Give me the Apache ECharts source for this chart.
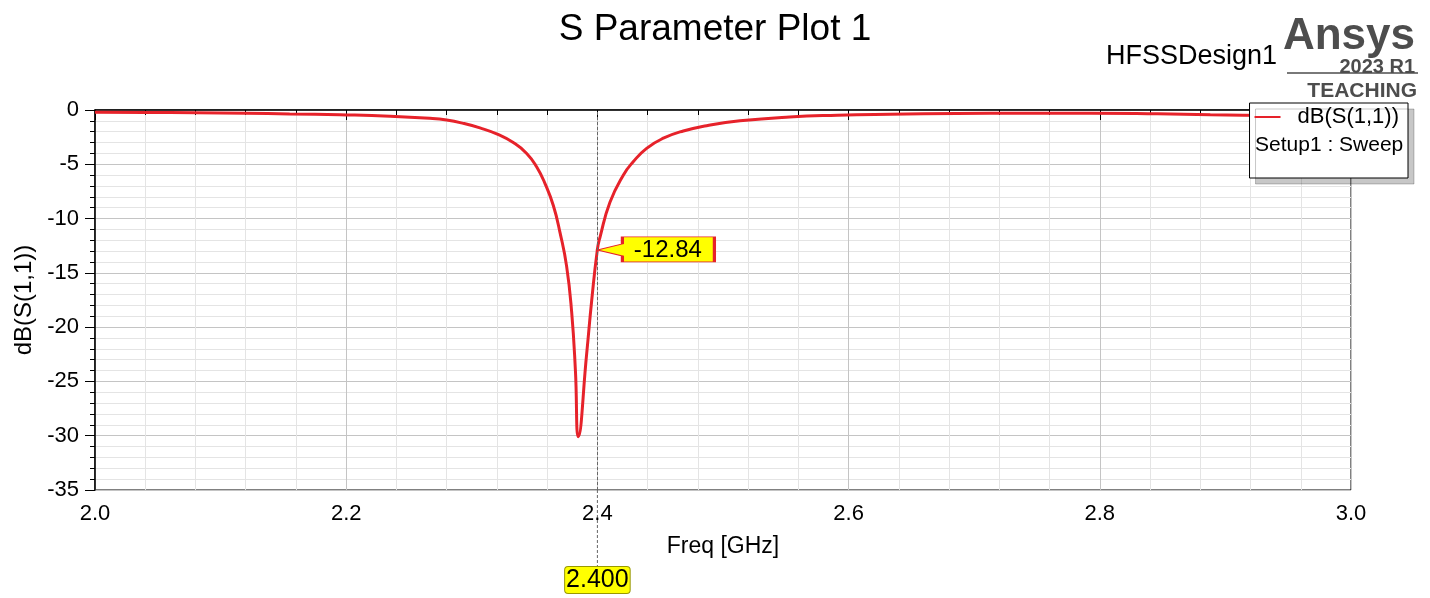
<!DOCTYPE html>
<html>
<head>
<meta charset="utf-8">
<script src="https://cdn.jsdelivr.net/npm/echarts@6/dist/echarts.min.js"></script>
<style>
html,body{margin:0;padding:0;background:#fff;}
#main{width:1430px;height:598px;}
</style>
</head>
<body>
<div id="main"></div>
<script>
// 频率 (GHz)
var freqs = [2.00, 2.04, 2.08, 2.12, 2.155, 2.195, 2.235, 2.2667, 2.280, 2.2932, 2.3065, 2.3198, 2.333, 2.3437,
	2.3517, 2.3583, 2.3649, 2.3702, 2.3755, 2.3795, 2.3825, 2.3848, 2.3915, 2.3955, 2.400, 2.4021, 2.410,
	2.4206, 2.4285, 2.4392, 2.4525, 2.4684, 2.487, 2.5135, 2.553, 2.591, 2.633, 2.686, 2.739, 2.792,
	2.846, 2.888, 2.94, 3.00];
// dB(S(1,1))
var s11 = [-0.20, -0.22, -0.25, -0.30, -0.36, -0.44, -0.57, -0.77, -0.93, -1.23, -1.65, -2.2, -3.0, -4.0,
	-5.25, -6.78, -8.8, -11.27, -14.4, -18.6, -24.0, -30.1, -22.4, -17.5, -12.84, -11.7, -8.5,
	-6.0, -4.77, -3.53, -2.6, -1.93, -1.45, -1.0, -0.64, -0.48, -0.39, -0.32, -0.29, -0.29,
	-0.35, -0.44, -0.50, -0.55];
var markerFreq = 2.4;
var markerVal = -12.84;

var font = 'Liberation Sans, Arial, sans-serif';
var seriesData = [];
for (var i = 0; i < freqs.length; i++) {
	seriesData.push([freqs[i], s11[i]]);
}

var myChart = echarts.init(document.getElementById('main'));
var option = {
	animation: false,
	backgroundColor: '#fff',
	title: [
		{text: 'S Parameter Plot 1', left: 'center', top: 6, textStyle: {fontFamily: font, fontSize: 37, fontWeight: 'normal', color: '#000'}},
		{text: 'HFSSDesign1', right: 148, top: 38, textStyle: {fontFamily: font, fontSize: 27, fontWeight: 'normal', color: '#000'}},
		{text: 'Ansys', right: 10, top: 10, textStyle: {fontFamily: font, fontSize: 44, fontWeight: 'bold', color: '#4d4d4d'}},
		{text: '2023 R1', right: 10, top: 52, textStyle: {fontFamily: font, fontSize: 20, fontWeight: 'bold', color: '#4d4d4d'}},
		{text: 'TEACHING', right: 8, top: 76, textStyle: {fontFamily: font, fontSize: 21, fontWeight: 'bold', color: '#4d4d4d'}},
		{text: 'Setup1 : Sweep', left: 1250, top: 130, textStyle: {fontFamily: font, fontSize: 21, fontWeight: 'normal', color: '#000'}}
	],
	legend: {
		right: 22,
		top: 103,
		orient: 'vertical',
		padding: [3, 9, 50, 5],
		backgroundColor: '#fff',
		borderColor: '#000',
		borderWidth: 1,
		shadowColor: 'rgba(0,0,0,0.22)',
		shadowOffsetX: 6,
		shadowOffsetY: 6,
		shadowBlur: 0,
		icon: 'rect',
		itemWidth: 26,
		itemHeight: 2,
		textStyle: {fontFamily: font, fontSize: 22, color: '#000', padding: [4, 0, 0, 12]},
		data: ['dB(S(1,1))']
	},
	grid: {
		left: 95,
		right: 79,
		top: 110,
		bottom: 108,
		show: true,
		borderColor: '#000',
		borderWidth: 1
	},
	xAxis: {
		type: 'value',
		min: 2,
		max: 3,
		interval: 0.2,
		name: 'Freq [GHz]',
		nameLocation: 'middle',
		nameGap: 45,
		nameTextStyle: {fontFamily: font, fontSize: 23, color: '#000'},
		axisLine: {lineStyle: {color: '#000', width: 1.5}},
		axisTick: {show: true, length: 10, lineStyle: {color: '#000'}},
		minorTick: {show: true, splitNumber: 5, length: 5, lineStyle: {color: '#000'}},
		axisLabel: {fontFamily: font, fontSize: 22, color: '#000', margin: 13, formatter: function(v){ return v.toFixed(1); }},
		splitLine: {show: true, lineStyle: {color: '#c4c4c4', width: 1}},
		minorSplitLine: {show: true, lineStyle: {color: '#e4e4e4', width: 1}},
		axisPointer: {
			show: true,
			value: markerFreq,
			status: 'show',
			type: 'line',
			triggerTooltip: false,
			lineStyle: {color: '#666', type: [3, 2], width: 1},
			label: {
				show: true,
				margin: 77,
				formatter: function(){ return markerFreq.toFixed(3); },
				backgroundColor: '#ffff00',
				borderColor: '#999900',
				borderWidth: 1,
				color: '#000',
				fontFamily: font,
				fontSize: 25,
				padding: [1, 1, 0, 1],
				shadowBlur: 0
			}
		}
	},
	yAxis: {
		type: 'value',
		min: -35,
		max: 0,
		interval: 5,
		name: 'dB(S(1,1))',
		nameLocation: 'middle',
		nameGap: 57,
		nameTextStyle: {fontFamily: font, fontSize: 24, color: '#000'},
		axisLine: {show: true, lineStyle: {color: '#000', width: 1.5}},
		axisTick: {show: true, length: 10, lineStyle: {color: '#000'}},
		minorTick: {show: true, splitNumber: 5, length: 5, lineStyle: {color: '#000'}},
		axisLabel: {fontFamily: font, fontSize: 22, color: '#000', margin: 16},
		splitLine: {show: true, lineStyle: {color: '#c4c4c4', width: 1}},
		minorSplitLine: {show: true, lineStyle: {color: '#e4e4e4', width: 1}}
	},
	series: [
		{
			name: 'dB(S(1,1))',
			type: 'line',
			symbol: 'none',
			smooth: 0.5,
			data: seriesData,
			lineStyle: {color: '#e6222a', width: 3},
			itemStyle: {color: '#e6222a'},
			markPoint: {
				silent: true,
				symbol: 'path://M0,0 L25,-6 L25,-13 L117,-13 L117,12 L25,12 L25,6 Z',
				symbolSize: [117, 25],
				symbolOffset: ['50%', 0],
				itemStyle: {color: '#ffff00', borderColor: '#e6222a', borderWidth: 1.5},
				label: {
					show: true,
					position: 'inside',
					offset: [12, 1],
					fontFamily: font,
					fontSize: 24,
					color: '#000',
					formatter: function(){ return markerVal.toFixed(2); }
				},
				data: [{coord: [markerFreq, markerVal], value: markerVal}]
			}
		}
	]
};
myChart.setOption(option);

// 标记线延伸到坐标轴下方的标签
var bottomPt = myChart.convertToPixel({gridIndex: 0}, [markerFreq, -35]);
myChart.setOption({
	graphic: [
		{type: 'line', shape: {x1: bottomPt[0], y1: bottomPt[1], x2: bottomPt[0], y2: bottomPt[1] + 78}, style: {stroke: '#666', lineDash: [3, 2], lineWidth: 1}, z: 0},
		{type: 'line', shape: {x1: 1287, y1: 73, x2: 1418, y2: 73}, style: {stroke: '#4d4d4d', lineWidth: 1.5}}
	]
});
</script>
</body>
</html>
